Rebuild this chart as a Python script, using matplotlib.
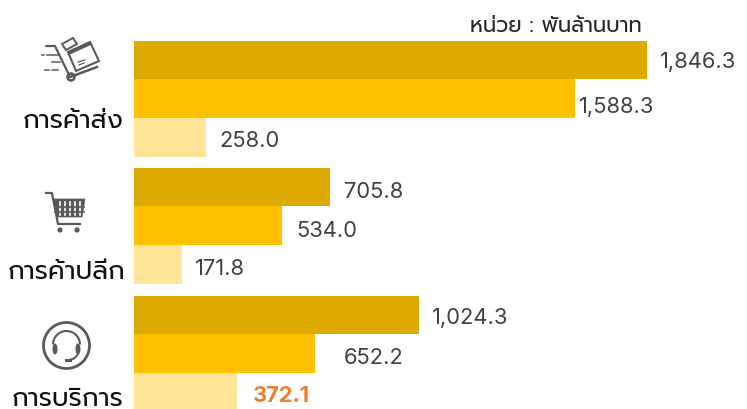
import matplotlib
matplotlib.use('Agg')
import matplotlib.pyplot as plt
from matplotlib.patches import Circle, Polygon, Arc, Ellipse

plt.rcParams['font.family'] = ['Prompt', 'Noto Sans Thai', 'DejaVu Sans']

categories = ['การค้าส่ง', 'การค้าปลีก', 'การบริการ']
series_top = [1846.3, 705.8, 1024.3]
series_mid = [1588.3, 534.0, 652.2]
series_low = [258.0, 171.8, 372.1]
unit_label = 'หน่วย : พันล้านบาท'

colors = ['#DDAA00', '#FFC000', '#FFE399']
text_color = '#404040'
icon_color = '#595959'

W, H = 747, 410
fig = plt.figure(figsize=(W / 100, H / 100), dpi=100)

# แกนแท่ง: 0 อยู่ที่ x=134px, 1 หน่วย = 0.2779px
scale = 0.2779
ax = fig.add_axes([0, 0, 1, 1])
ax.set_xlim(-134 / scale, (W - 134) / scale)
ax.set_ylim(H, 0)
ax.axis('off')

group_tops = [41.5, 168.5, 296.5]
bar_h = 38.8

# ระยะป้ายตัวเลขจากปลายแท่ง (dx, dy) เป็นพิกเซล
label_dx = [[13, 4, 14], [14, 14, 13], [13, 29, 15]]
label_dy = [[2, 8, 4], [5, 5, 5], [3, 4, 4]]

for i in range(3):
    top = group_tops[i]
    vals = [series_top[i], series_mid[i], series_low[i]]
    for j, v in enumerate(vals):
        yc = top + bar_h * j + bar_h / 2
        ax.barh(yc, v, height=bar_h, color=colors[j], linewidth=0)
        is_hl = (i == 2 and j == 2)
        ax.annotate(f'{v:,.1f}', (v, yc), xytext=(label_dx[i][j], -label_dy[i][j] + 1),
                    textcoords='offset pixels', va='center', ha='left', fontsize=15.8,
                    family=['Inter', 'DejaVu Sans'],
                    color='#ED7D31' if is_hl else text_color,
                    fontweight='bold' if is_hl else 'normal')

# แกนพิกเซลสำหรับข้อความและไอคอน
px = fig.add_axes([0, 0, 1, 1])
px.set_xlim(0, W)
px.set_ylim(H, 0)
px.axis('off')
px.patch.set_alpha(0)

px.text(642, 26, unit_label, ha='right', va='center', fontsize=15.2, color='#262626')

label_pos = [(73, 122), (67, 273), (68, 400)]
for name, (x, y) in zip(categories, label_pos):
    px.text(x, y, name, ha='center', va='center', fontsize=18.7, color='#111111')

# รถเข็นของ
px.plot([46, 55, 70], [47, 47, 78], color=icon_color, lw=1.6, solid_capstyle='round')
px.plot([70, 97], [78, 68], color=icon_color, lw=1.8)
px.add_patch(Circle((71, 78), 3.5, fc='white', ec=icon_color, lw=1.8))
px.add_patch(Polygon([[68, 53], [90, 43], [99, 62], [76, 72]], fc='white', ec=icon_color, lw=1.5))
px.add_patch(Polygon([[68, 53], [90, 43], [91, 45.5], [69, 55.5]], fc=icon_color, ec=icon_color, lw=0.5))
px.add_patch(Polygon([[62, 45], [73, 39], [77, 45], [66, 51]], fc='white', ec=icon_color, lw=1.4))
px.plot([78, 85], [63, 61], color=icon_color, lw=0.9)
px.plot([79, 84], [66, 64], color=icon_color, lw=0.9)
for x0, x1, y in [(42, 44, 56), (47, 58, 56), (52, 60, 63), (45, 49, 71), (52, 58, 71)]:
    px.plot([x0, x1], [y, y], color=icon_color, lw=1.1)

# รถเข็นช้อปปิ้ง
px.plot([46, 52, 58, 80], [194, 194, 225, 225], color=icon_color, lw=1.6)
px.add_patch(Polygon([[53, 200], [85, 200], [82, 218], [57, 218]], fc=icon_color, ec=icon_color, lw=0.5))
for x in [60, 65, 70, 75, 80]:
    px.plot([x, x], [203, 216], color='white', lw=1.2)
for y in [208, 213]:
    px.plot([55, 84], [y, y], color=icon_color, lw=1.2)
px.add_patch(Circle((60, 231), 2.6, fc=icon_color, ec='none'))
px.add_patch(Circle((77, 231), 2.6, fc=icon_color, ec='none'))

# หูฟัง
px.add_patch(Circle((66.5, 346.5), 23, fc='none', ec=icon_color, lw=2.0))
px.add_patch(Arc((66.5, 345.5), 27, 27, theta1=180, theta2=360, ec=icon_color, lw=1.5))
px.add_patch(Ellipse((55, 350), 5, 11, fc=icon_color, ec='none'))
px.add_patch(Ellipse((78, 350), 5, 11, fc=icon_color, ec='none'))
px.add_patch(Arc((68, 350), 22, 22, theta1=15, theta2=85, ec=icon_color, lw=1.5))
px.plot([66, 70], [361, 361], color=icon_color, lw=2.2)

fig.savefig('out.png', dpi=100)
